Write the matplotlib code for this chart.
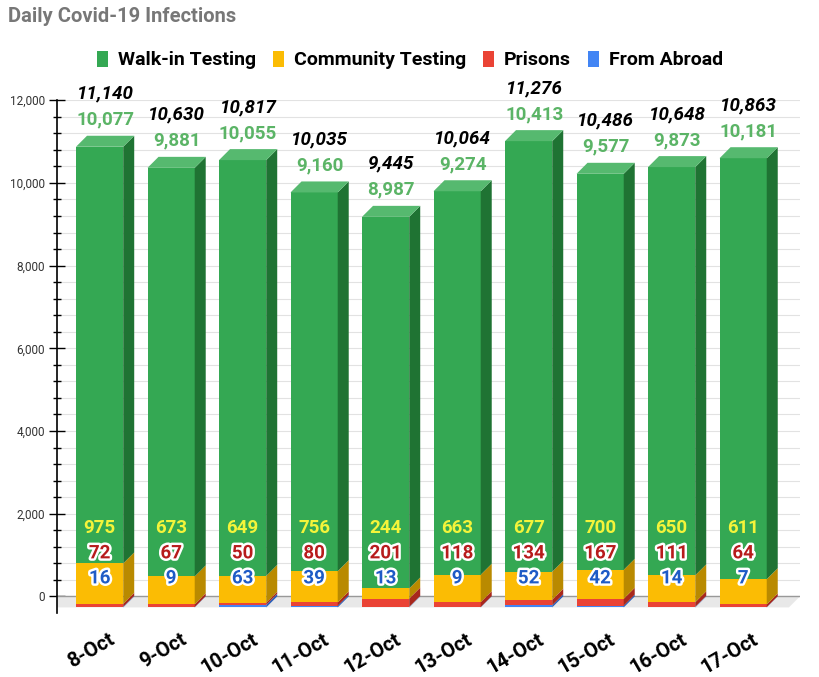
import numpy as np
import matplotlib
matplotlib.use("Agg")
import matplotlib.pyplot as plt
from matplotlib.patches import Polygon, Patch
import matplotlib.patheffects as pe

plt.rcParams['font.family'] = ['Roboto', 'DejaVu Sans']

dates = ["8-Oct", "9-Oct", "10-Oct", "11-Oct", "12-Oct", "13-Oct", "14-Oct", "15-Oct", "16-Oct", "17-Oct"]
walk_in = [10077, 9881, 10055, 9160, 8987, 9274, 10413, 9577, 9873, 10181]
community = [975, 673, 649, 756, 244, 663, 677, 700, 650, 611]
prisons = [72, 67, 50, 80, 201, 118, 134, 167, 111, 64]
abroad = [16, 9, 63, 39, 13, 9, 52, 42, 14, 7]

# series stacked bottom -> top, with front / side / top face colours
series = [
    ("From Abroad", abroad, "#4285F4", "#2C5EB8", "#6A9EF6"),
    ("Prisons", prisons, "#EA4335", "#A8281D", "#F06A5F"),
    ("Community Testing", community, "#FBBC04", "#B98A00", "#FCCB45"),
    ("Walk-in Testing", walk_in, "#34A853", "#1F7333", "#56B96F"),
]

fig = plt.figure(figsize=(8.2, 6.77), dpi=100)
ax = fig.add_axes([0.0695, 0.094, 0.906, 0.758])

x = np.arange(len(dates))
dx, dy = 0.154, 266      # 3D depth offsets (data units)
w = 0.33                 # half bar width
xmin, xmax = -0.75, 9.64
ax.set_xlim(xmin, xmax)
ax.set_ylim(-410, 12000)

# floor
ax.add_patch(Polygon([(xmin, 0), (xmax, 0), (xmax - dx, -dy), (xmin - dx, -dy)],
                     closed=True, facecolor="#E8E8E8", edgecolor="none", zorder=1))
ax.axhline(0, color="#999999", lw=1, zorder=1.5)

bottom = np.zeros(len(dates))
for k, (name, vals, c_front, c_side, c_top) in enumerate(series):
    vals = np.array(vals, dtype=float)
    top = bottom + vals
    ax.bar(x - dx, vals, bottom=bottom - dy, width=2 * w, color=c_front, zorder=3)
    for i in range(len(x)):
        b, t = bottom[i], top[i]
        ax.add_patch(Polygon([(x[i] - dx + w, b - dy), (x[i] + w, b), (x[i] + w, t),
                              (x[i] - dx + w, t - dy)], closed=True,
                             facecolor=c_side, edgecolor="none", zorder=3))
        if k == len(series) - 1:
            ax.add_patch(Polygon([(x[i] - dx - w, t - dy), (x[i] - w, t), (x[i] + w, t),
                                  (x[i] - dx + w, t - dy)], closed=True,
                                 facecolor=c_top, edgecolor="none", zorder=3))
    bottom = top

totals = bottom
for i in range(len(x)):
    ax.text(x[i] - dx / 2, totals[i] + 1016, f"{int(totals[i]):,}", ha="center", va="center",
            fontsize=13.5, fontweight="bold", fontstyle="italic", color="black", zorder=5)
    ax.text(x[i] - dx / 2, totals[i] + 387, f"{walk_in[i]:,}", ha="center", va="center",
            fontsize=13.5, fontweight="bold", color="#5BB466", zorder=5)
    ax.text(x[i] - dx, 1646, f"{community[i]}", ha="center", va="center",
            fontsize=13.5, fontweight="bold", color="#F4F43A", zorder=5)
    ax.text(x[i] - dx, 1041, f"{prisons[i]}", ha="center", va="center",
            fontsize=13.5, fontweight="bold", color="#B71C1C", zorder=5,
            path_effects=[pe.withStroke(linewidth=3.5, foreground="white")])
    ax.text(x[i] - dx, 436, f"{abroad[i]}", ha="center", va="center",
            fontsize=13.5, fontweight="bold", color="#1E5BC6", zorder=5,
            path_effects=[pe.withStroke(linewidth=3.5, foreground="white")])

# axes styling
ax.set_yticks(np.arange(0, 12001, 2000))
ax.set_yticks(np.arange(0, 12001, 400), minor=True)
ax.set_yticklabels([f"{v:,}" for v in range(0, 12001, 2000)])
ax.tick_params(axis="y", which="major", direction="inout", length=11, width=1,
               labelsize=8.5, labelcolor="#333333", pad=3)
ax.tick_params(axis="y", which="minor", direction="inout", length=6, width=1)
ax.grid(axis="y", which="both", color="#E2E2E2", lw=0.8, zorder=0)
ax.set_axisbelow(True)

ax.set_xticks(x - 0.03)
ax.set_xticklabels(dates, rotation=30, ha="right", rotation_mode="anchor",
                   fontsize=14.5, fontweight="bold")
ax.tick_params(axis="x", length=0, pad=12)

for s in ["top", "right", "bottom"]:
    ax.spines[s].set_visible(False)
ax.spines["left"].set_linewidth(1.2)

handles = [Patch(facecolor=s[2], label=s[0]) for s in series[::-1]]
fig.legend(handles=handles, loc="center", bbox_to_anchor=(0.5, 1 - 60 / 677), ncol=4,
           frameon=False, prop={"size": 14, "weight": "bold"}, handlelength=0.55,
           handleheight=0.9, handletextpad=0.5, columnspacing=0.9)

fig.text(0.01, 1 - 17 / 677, "Daily Covid-19 Infections", ha="left", va="center",
         fontsize=14.5, fontweight="bold", color="#777777")

fig.savefig("out.png", dpi=100)
